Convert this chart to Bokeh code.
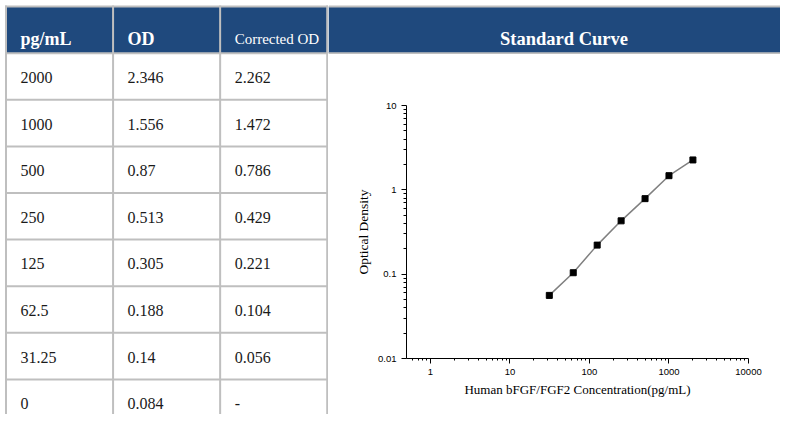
from bokeh.plotting import figure
from bokeh.layouts import row, column
from bokeh.models import Range1d, FixedTicker, PrintfTickFormatter
from bokeh.embed import file_html
from bokeh.resources import INLINE

# ---- data ----
headers = ["pg/mL", "OD", "Corrected OD"]
conc_labels = ["2000", "1000", "500", "250", "125", "62.5", "31.25", "0"]
od_labels = ["2.346", "1.556", "0.87", "0.513", "0.305", "0.188", "0.14", "0.084"]
corrected_labels = ["2.262", "1.472", "0.786", "0.429", "0.221", "0.104", "0.056", "-"]
chart_title = "Standard Curve"
x_label = "Human bFGF/FGF2 Concentration(pg/mL)"
y_label = "Optical Density"
x_major = [1, 10, 100, 1000, 10000]
y_major = [0.01, 0.1, 1, 10]

conc = [float(c) for c, v in zip(conc_labels, corrected_labels) if v != "-"]
corrected = [float(v) for v in corrected_labels if v != "-"]

# ---- styles / layout ----
BLUE = "#1f497d"
GRID = "#bfbfbf"
TXT = "#1a1a1a"
SERIF = "Liberation Serif"

W, H = 780, 414
LEFT_W = 328
RIGHT_W = W - LEFT_W
HEAD_H = 54
X0 = 5.5          # left border of the table
COL_W = 107.07
TOP_LINE = 6
HEAD_LINE = 52.7
ROW_H = 46.6
PAD = 14.5
BASE = 38         # header text baseline


def blank(w, h):
    f = figure(width=w, height=h, x_range=Range1d(0, w), y_range=Range1d(h, 0),
               output_backend="svg", toolbar_location=None, min_border=0,
               x_axis_location=None, y_axis_location=None)
    f.grid.visible = False
    f.outline_line_color = None
    f.background_fill_color = "white"
    f.border_fill_color = "white"
    return f


# ---- left: table ----
t = blank(LEFT_W, H)
vx = [X0 + COL_W * i for i in range(len(headers) + 1)]
t.quad(left=[vx[0]], right=[vx[-1]], top=[TOP_LINE], bottom=[HEAD_LINE], color=BLUE, line_color=None)
t.segment(x0=vx, x1=vx, y0=[TOP_LINE - 1] * len(vx), y1=[H] * len(vx), line_color=GRID, line_width=2)
hy = [TOP_LINE, HEAD_LINE] + [HEAD_LINE + ROW_H * k for k in range(1, len(conc_labels))]
t.segment(x0=[X0 - 1] * len(hy), x1=[LEFT_W] * len(hy), y0=hy, y1=hy, line_color=GRID, line_width=2)

hx = [v + PAD for v in vx[:-1]]
t.text(x=hx[:2], y=[BASE, BASE], text=headers[:2], text_color="white", text_font=SERIF,
       text_font_size="18px", text_font_style="bold", text_baseline="alphabetic")
t.text(x=hx[2:], y=[BASE], text=headers[2:], text_color="white", text_font=SERIF,
       text_font_size="15px", text_baseline="alphabetic")

for j, col in enumerate([conc_labels, od_labels, corrected_labels]):
    ys = [HEAD_LINE + ROW_H * k + ROW_H / 2 + 1 for k in range(len(col))]
    t.text(x=[hx[j]] * len(col), y=ys, text=col, text_color=TXT, text_font=SERIF,
           text_font_size="16px", text_baseline="middle")

# ---- right: header ----
hd = blank(RIGHT_W, HEAD_H)
hd.quad(left=[0], right=[RIGHT_W], top=[TOP_LINE], bottom=[HEAD_LINE], color=BLUE, line_color=None)
hd.segment(x0=[0, 0], x1=[RIGHT_W, RIGHT_W], y0=[TOP_LINE, HEAD_LINE], y1=[TOP_LINE, HEAD_LINE],
           line_color=GRID, line_width=2)
hd.text(x=[563.5 - LEFT_W], y=[BASE], text=[chart_title], text_color="white", text_font=SERIF,
        text_font_size="18.5px", text_font_style="bold", text_align="center",
        text_baseline="alphabetic")

# ---- right: chart ----
FR_L, FR_R, FR_T, FR_B = 406, 748, 105, 358   # frame edges on the page
p = figure(width=RIGHT_W, height=H - HEAD_H, x_axis_type="log", y_axis_type="log",
           x_range=Range1d(0.5, 10000), y_range=Range1d(0.01, 10),
           min_border_left=FR_L - LEFT_W, min_border_right=W - FR_R,
           min_border_top=FR_T - HEAD_H, min_border_bottom=H - FR_B,
           output_backend="svg", toolbar_location=None)
p.grid.visible = False
p.outline_line_color = None
p.background_fill_color = "white"
p.border_fill_color = "white"

x_minor = [m * 10.0 ** e for e in range(-1, 4) for m in range(2, 10) if 0.5 < m * 10.0 ** e < 10000]
y_minor = [m * 10.0 ** e for e in range(-2, 1) for m in range(2, 10)]
p.xaxis.ticker = FixedTicker(ticks=x_major, minor_ticks=x_minor)
p.yaxis.ticker = FixedTicker(ticks=y_major, minor_ticks=y_minor)
for ax in (p.xaxis, p.yaxis):
    ax.formatter = PrintfTickFormatter(format="%g")
    ax.axis_line_color = "black"
    ax.axis_line_width = 1
    ax.major_tick_line_color = "black"
    ax.minor_tick_line_color = "black"
    ax.major_tick_in = 0
    ax.major_tick_out = 5
    ax.minor_tick_in = 0
    ax.major_label_text_font = "Liberation Sans"
    ax.major_label_text_font_size = "9.5px"
    ax.major_label_text_color = "black"
    ax.major_label_standoff = 5
    ax.axis_label_text_font = SERIF
    ax.axis_label_text_font_style = "normal"
    ax.axis_label_text_color = "black"
p.xaxis.minor_tick_out = 2
p.yaxis.minor_tick_out = 3
p.xaxis.axis_label = x_label
p.yaxis.axis_label = y_label
p.xaxis.axis_label_text_font_size = "13px"
p.yaxis.axis_label_text_font_size = "13.5px"
p.xaxis.axis_label_standoff = 4
p.yaxis.axis_label_standoff = 4

p.line(conc, corrected, line_color="#808080", line_width=1.5)
p.scatter(conc, corrected, marker="square", size=6, color="black")

layout = row(t, column(row(hd, spacing=0), p, spacing=0), spacing=0)
open("out.html", "w").write(file_html(layout, INLINE))
